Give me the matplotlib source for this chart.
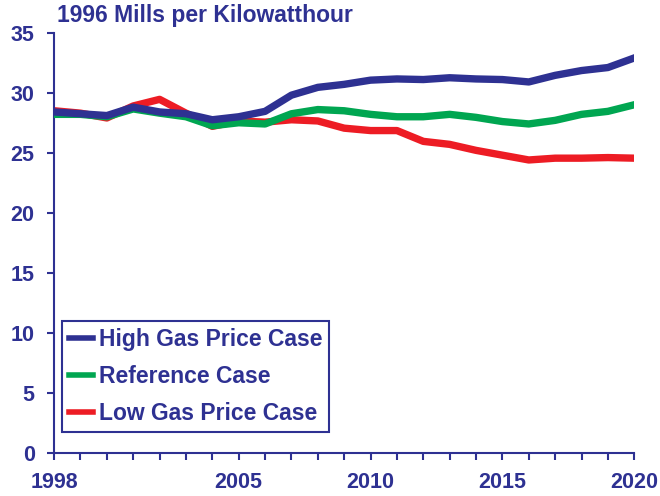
import matplotlib
matplotlib.use("Agg")
import matplotlib.pyplot as plt
from matplotlib.ticker import MultipleLocator, FixedLocator

years = list(range(1998, 2021))
high_gas = [28.4, 28.25, 28.1, 28.8, 28.4, 28.25, 27.75, 28.0, 28.45, 29.8, 30.45, 30.7,
            31.05, 31.15, 31.1, 31.25, 31.15, 31.1, 30.9, 31.45, 31.85, 32.1, 32.9]
reference = [28.2, 28.2, 28.0, 28.65, 28.3, 28.0, 27.25, 27.5, 27.4, 28.25, 28.6, 28.5,
             28.2, 28.0, 28.0, 28.2, 27.95, 27.6, 27.4, 27.7, 28.2, 28.45, 29.0]
low_gas = [28.5, 28.3, 27.9, 28.9, 29.45, 28.3, 27.2, 27.65, 27.55, 27.75, 27.65, 27.05,
           26.85, 26.85, 25.95, 25.7, 25.2, 24.8, 24.4, 24.55, 24.55, 24.6, 24.55]
labels = ["High Gas Price Case", "Reference Case", "Low Gas Price Case"]
xtick_labels = [1998, 2005, 2010, 2015, 2020]
title = "1996 Mills per Kilowatthour"

navy = "#2E3192"
green = "#00A651"
red = "#ED1C24"

plt.rcParams['font.family'] = ['Liberation Sans', 'DejaVu Sans']
plt.rcParams['font.weight'] = 'bold'

fig = plt.figure(figsize=(6.6, 4.96), dpi=100)
ax = fig.add_axes([0.082, 0.087, 0.879, 0.847])

lw = 5.3
l_low, = ax.plot(years, low_gas, color=red, lw=lw, zorder=2)
l_ref, = ax.plot(years, reference, color=green, lw=lw, zorder=3)
l_high, = ax.plot(years, high_gas, color=navy, lw=lw, zorder=4)

ax.set_xlim(1998, 2020)
ax.set_ylim(0, 35)
ax.yaxis.set_major_locator(MultipleLocator(5))
ax.xaxis.set_major_locator(FixedLocator(xtick_labels))
ax.xaxis.set_minor_locator(MultipleLocator(1))

for s in ['top', 'right']:
    ax.spines[s].set_visible(False)
for s in ['left', 'bottom']:
    ax.spines[s].set_color(navy)
    ax.spines[s].set_linewidth(1.5)

ax.tick_params(axis='both', which='both', colors=navy, width=1.5, direction='out', length=5)
ax.tick_params(axis='y', which='major', labelsize=15.5, pad=9)
ax.tick_params(axis='x', which='major', labelsize=15.5, pad=9)
for lab in ax.get_xticklabels() + ax.get_yticklabels():
    lab.set_fontweight('bold')
    lab.set_color(navy)

fig.text(0.086, 0.969, title, color=navy, fontsize=16.5, fontweight='bold',
         ha='left', va='center')

leg = ax.legend([l_high, l_ref, l_low], labels, loc='lower left',
                bbox_to_anchor=(0.014, 0.05), borderaxespad=0,
                handlelength=1.05, handletextpad=0.25, labelspacing=0.62,
                fancybox=False, framealpha=1, edgecolor=navy,
                prop={'size': 16.5, 'weight': 'bold'}, borderpad=0.3)
leg.get_frame().set_linewidth(1.5)
for t in leg.get_texts():
    t.set_color(navy)
for h in leg.get_lines():
    h.set_linewidth(4)

fig.savefig("out.png", dpi=100)
